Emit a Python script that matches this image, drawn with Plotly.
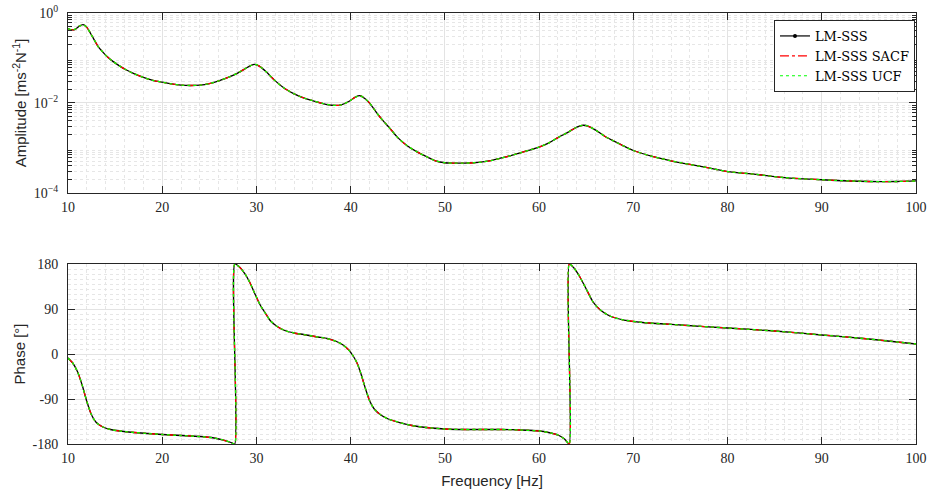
import plotly.graph_objects as go

# ---------------- data ----------------
amp_freq = [10.0, 10.4, 10.8, 11.2, 11.6, 12.0, 12.4, 12.8, 13.2, 13.7, 14.2, 14.8, 15.5, 16.2,
            17.0, 18.0, 19.0, 20.0, 21.0, 22.0, 23.0, 24.0, 25.0, 26.0, 27.0, 28.0, 28.8, 29.4,
            29.8, 30.3, 31.0, 32.0, 33.0, 34.0, 35.0, 36.0, 37.0, 38.0, 39.0, 39.8, 40.5, 41.0,
            41.5, 42.0, 42.5, 43.0, 43.5, 44.0, 45.0, 46.0, 47.0, 48.0, 49.0, 50.0, 51.0, 52.0,
            53.0, 54.0, 55.0, 56.0, 57.0, 58.0, 59.0, 60.0, 61.0, 62.0, 63.0, 64.0, 64.7, 65.3,
            66.0, 67.0, 68.0, 69.0, 70.0, 72.0, 74.0, 76.0, 78.0, 80.0, 83.0, 86.0, 90.0, 95.0,
            98.0, 100.0]
amp_vals = [0.45, 0.42, 0.44, 0.51, 0.55, 0.48, 0.35, 0.25, 0.18, 0.135, 0.105, 0.083, 0.066, 0.054,
            0.045, 0.037, 0.032, 0.029, 0.0265, 0.025, 0.0245, 0.025, 0.027, 0.031, 0.037, 0.046, 0.058, 0.068,
            0.072, 0.066, 0.050, 0.031, 0.021, 0.016, 0.0130, 0.0112, 0.0098, 0.0089, 0.0091, 0.0108, 0.0135, 0.0145,
            0.0126, 0.0100, 0.0072, 0.0052, 0.0039, 0.0030, 0.0017, 0.00112, 0.00083, 0.00065, 0.00052, 0.00047, 0.00046, 0.00046,
            0.00047, 0.00049, 0.00053, 0.00060, 0.00068, 0.00078, 0.00090, 0.00105, 0.00128, 0.0017, 0.0022, 0.0029, 0.0032, 0.0030,
            0.0025, 0.0018, 0.0014, 0.0011, 0.00088, 0.00065, 0.00052, 0.00043, 0.00036, 0.00030, 0.00026, 0.00022, 0.000197, 0.000180,
            0.000180, 0.000185]

ph_freq = [10.0, 10.5, 11.0, 11.5, 12.0, 12.5, 13.0, 13.7, 14.5, 15.5, 17.0, 18.5, 20.0, 22.0,
           24.0, 25.5, 26.5, 27.3, 27.7, 27.7, 28.2, 28.8, 29.3, 29.8, 30.4, 31.0, 31.5, 32.2,
           33.0, 34.0, 35.0, 36.5, 37.5, 38.5, 39.2, 39.8, 40.3, 40.7, 41.1, 41.5, 42.0, 42.5,
           43.2, 44.0, 45.2, 46.5, 48.0, 50.0, 52.0, 54.0, 56.0, 58.0, 60.0, 61.0, 62.0, 62.7,
           63.2, 63.2, 63.7, 64.3, 65.0, 65.7, 66.5, 67.5, 69.0, 71.0, 75.0, 80.0, 85.0, 90.0,
           95.0, 100.0]
ph_vals = [-8, -18, -35, -62, -95, -122, -137, -146, -151, -154, -157, -159, -161, -163,
           -165, -168, -172, -177, -180, 180, 174, 160, 143, 122, 98, 80, 66, 55,
           47, 42, 39, 34, 31, 25, 18, 8, -5, -19, -40, -65, -93, -110,
           -122, -130, -137, -143, -147, -150, -151, -151, -151, -152, -154, -157, -162, -170,
           -180, 180, 172, 155, 130, 105, 88, 76, 68, 63, 58, 52, 46, 38,
           30, 20]

series_names = ["LM-SSS", "LM-SSS SACF", "LM-SSS UCF"]
series_colors = ["#000000", "#ff0000", "#00ff00"]
series_dash = ["solid", "dashdot", "dot"]

x_ticks = [10, 20, 30, 40, 50, 60, 70, 80, 90, 100]
amp_ticks = [1, 1e-2, 1e-4]
amp_tick_text = ["10<sup>0</sup>", "10<sup>−2</sup>", "10<sup>−4</sup>"]
ph_ticks = [-180, -90, 0, 90, 180]
ph_tick_text = ["-180", "-90", "0", "90", "180"]

# ---------------- figure ----------------
fig = go.Figure()
for name, col, dash in zip(series_names, series_colors, series_dash):
    # legend entry (MATLAB '.-' style for the first series)
    fig.add_trace(go.Scatter(x=[None], y=[None], name=name,
                             mode="lines+markers" if dash == "solid" else "lines",
                             line=dict(color=col, width=1.2, dash=dash),
                             marker=dict(size=4, color=col),
                             xaxis="x", yaxis="y"))
for name, col, dash in zip(series_names, series_colors, series_dash):
    fig.add_trace(go.Scatter(x=amp_freq, y=amp_vals, name=name, mode="lines", showlegend=False,
                             line=dict(color=col, width=1.3, dash=dash, shape="spline", smoothing=0.8),
                             xaxis="x", yaxis="y"))
for name, col, dash in zip(series_names, series_colors, series_dash):
    fig.add_trace(go.Scatter(x=ph_freq, y=ph_vals, name=name, mode="lines", showlegend=False,
                             line=dict(color=col, width=1.3, dash=dash, shape="spline", smoothing=0.6),
                             xaxis="x2", yaxis="y2"))

serif = "Liberation Serif"
sans = "Liberation Sans"
minor_amp = [m * 10.0 ** k for k in (-4, -3, -2, -1) for m in range(2, 10)]

axis_common = dict(showline=True, linecolor="#262626", linewidth=1, mirror="ticks",
                   ticks="inside", ticklen=7, tickcolor="#262626",
                   gridcolor="#e3e3e3", gridwidth=1, zeroline=False, automargin=False,
                   ticklabeloverflow="allow",
                   tickfont=dict(family=serif, size=14, color="#262626"))

fig.update_layout(
    width=930, height=494,
    margin=dict(l=68, r=14, t=13, b=50),
    paper_bgcolor="white", plot_bgcolor="white",
    showlegend=True,
    legend=dict(x=0.9988, y=0.9838, xanchor="right", yanchor="top",
                bgcolor="white", bordercolor="#262626", borderwidth=1,
                font=dict(family="DejaVu Serif", size=13, color="#000000"),
                tracegroupgap=0, itemwidth=30),
    xaxis=dict(axis_common, domain=[0, 1], range=[10, 100], anchor="y",
               tickvals=x_ticks, ticklabelstandoff=1,
               minor=dict(dtick=2, showgrid=True, gridcolor="#e6e6e6", griddash="dot", ticks="")),
    yaxis=dict(axis_common, domain=[0.5824, 1], type="log", range=[-4, 0], anchor="x",
               tickvals=amp_ticks, ticktext=amp_tick_text, ticklabelstandoff=6,
               minor=dict(tickvals=minor_amp, showgrid=True, gridcolor="#e6e6e6", griddash="dot",
                          ticks="inside", ticklen=4, tickcolor="#262626"),
               title=dict(text="Amplitude [ms<sup>-2</sup>N<sup>-1</sup>]", standoff=3,
                          font=dict(family=sans, size=15, color="#262626"))),
    xaxis2=dict(axis_common, domain=[0, 1], range=[10, 100], anchor="y2",
                tickvals=x_ticks, ticklabelstandoff=1,
                minor=dict(dtick=2, showgrid=True, gridcolor="#e6e6e6", griddash="dot", ticks=""),
                title=dict(text="Frequency [Hz]", standoff=10,
                           font=dict(family=sans, size=15, color="#262626"))),
    yaxis2=dict(axis_common, domain=[0, 0.4176], range=[-180, 180], anchor="x2",
                tickvals=ph_ticks, ticktext=ph_tick_text, ticklabelstandoff=6,
                minor=dict(dtick=10, showgrid=True, gridcolor="#e6e6e6", griddash="dot", ticks=""),
                title=dict(text="Phase [°]", standoff=3,
                           font=dict(family=sans, size=15, color="#262626"))),
)

# remove the default page margin so the figure fills the 930x494 window exactly
fig.write_html("out.html", config={"displayModeBar": False},
               post_script="document.body.style.margin='0';document.body.style.overflow='hidden';")
